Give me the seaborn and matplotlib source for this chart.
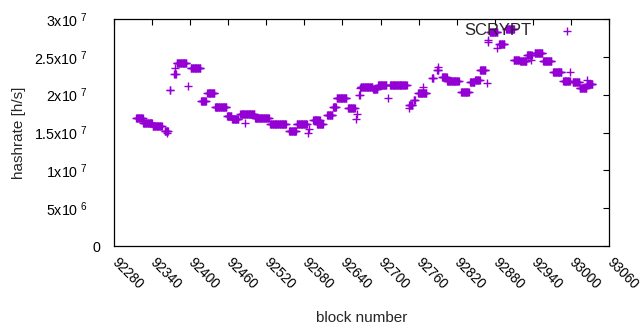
import numpy as np
import pandas as pd
import matplotlib
matplotlib.use("Agg")
import matplotlib.pyplot as plt
import matplotlib.transforms as mtransforms
import seaborn as sns

# hashrate runs: first block, number of blocks, hashrate in Mh/s
run_start = [92315, 92326, 92341, 92360, 92368, 92375, 92379, 92401, 92417, 92427,
             92439, 92458, 92466, 92479, 92502, 92526, 92556, 92568, 92594, 92600,
             92616, 92625, 92631, 92649, 92666, 92669, 92688, 92696, 92715, 92745,
             92752, 92759, 92781, 92789, 92797, 92805, 92827, 92841, 92849, 92857,
             92872, 92887, 92898, 92910, 92920, 92931, 92943, 92956, 92972, 92988,
             93003, 93014, 93025]
run_len = [11, 15, 15, 6, 2, 3, 16, 16, 9, 12,
           19, 8, 11, 23, 23, 26, 12, 17, 11, 10,
           9, 6, 16, 11, 2, 19, 8, 14, 27, 6,
           3, 14, 3, 3, 8, 19, 13, 8, 8, 9,
           13, 9, 13, 9, 11, 8, 13, 14, 14, 11,
           11, 11, 10]
run_mhs = [16.9, 16.25, 15.85, 15.2, 20.6, 22.7, 24.2, 23.5, 19.2, 20.2,
           18.4, 17.2, 16.8, 17.4, 16.9, 16.1, 15.2, 16.1, 16.6, 16.1,
           17.3, 18.4, 19.6, 18.2, 20.0, 21.0, 20.7, 21.3, 21.3, 18.6,
           19.3, 20.2, 22.2, 23.2, 22.3, 21.8, 20.3, 21.7, 22.0, 23.3,
           28.3, 26.7, 28.7, 24.6, 24.4, 25.2, 25.5, 24.4, 23.0, 21.8,
           21.7, 20.9, 21.4]

# single outlying blocks
single_block = [92363, 92376, 92397, 92487, 92586, 92587, 92661, 92663, 92667, 92712,
                92745, 92767, 92790, 92868, 92869, 92870, 92884, 92937, 92999, 93026]
single_mhs = [14.9, 23.5, 21.1, 16.3, 14.9, 15.5, 16.8, 17.5, 20.9, 19.5,
              18.2, 21.0, 23.7, 21.5, 27.0, 27.2, 26.2, 24.6, 23.0, 22.0]

blocks = np.concatenate([np.arange(s, s + n) for s, n in zip(run_start, run_len)] + [single_block])
rates = np.concatenate([np.full(n, v) for n, v in zip(run_len, run_mhs)] + [single_mhs]) * 1e6
df = pd.DataFrame({"block": blocks, "hashrate": rates})

xticks = list(range(92280, 93061, 60))
yticks = [0, 5e6, 1e7, 1.5e7, 2e7, 2.5e7, 3e7]
ylabels = ["0", "5x10 6", "1x10 7", "1.5x10 7", "2x10 7", "2.5x10 7", "3x10 7"]


def sup_label(s):
    # "2.5x10 7" -> mantissa x 10 with raised exponent (gnuplot enhanced text look)
    if " " not in s:
        return s
    base, exp = s.split(" ")
    return r"$\mathregular{" + base + r"^{\ " + exp + r"}}$" + "    "


sns.set_style("white")
plt.rcParams["font.family"] = ["Liberation Sans", "DejaVu Sans"]
plt.rcParams["mathtext.fontset"] = "custom"
plt.rcParams["mathtext.rm"] = "Liberation Sans"

fig = plt.figure(figsize=(6.4, 3.3), dpi=100)
ax = fig.add_axes([114 / 640, 1 - 246 / 330, 495 / 640, 227 / 330])

sns.scatterplot(data=df, x="block", y="hashrate", marker="+", color="#9400d3",
                s=30, linewidth=1.0, label="SCRYPT", ax=ax)

ax.set_xlim(92280, 93060)
ax.set_ylim(0, 3e7)
ax.set_xticks(xticks)
ax.set_xticklabels([str(t) for t in xticks], rotation=-45, ha="left", va="center",
                   rotation_mode="anchor", fontsize=9.8)
offset = mtransforms.ScaledTranslation(3 / 100, 0, fig.dpi_scale_trans)
for lab in ax.get_xticklabels():
    lab.set_transform(lab.get_transform() + offset)
ax.set_yticks(yticks)
ax.set_yticklabels([sup_label(s) for s in ylabels], fontsize=10.3)
ax.tick_params(direction="in", length=4.5, width=0.8, top=True, right=True,
               color="black", labelcolor="black")
ax.tick_params(axis="x", pad=10)
ax.tick_params(axis="y", pad=10)
for sp in ax.spines.values():
    sp.set_color("black")
    sp.set_linewidth(0.9)

ax.set_xlabel("block number", fontsize=11)
ax.xaxis.set_label_coords(0.5, -0.285)
ax.set_ylabel("hashrate [h/s]", fontsize=11)
ax.yaxis.set_label_coords(-0.178, 0.5)

ax.legend(loc="upper right", bbox_to_anchor=(0.958, 1.048), frameon=False, markerfirst=False,
          fontsize=12, handlelength=0.8, handletextpad=1.7)

fig.savefig("out.png", dpi=100)
